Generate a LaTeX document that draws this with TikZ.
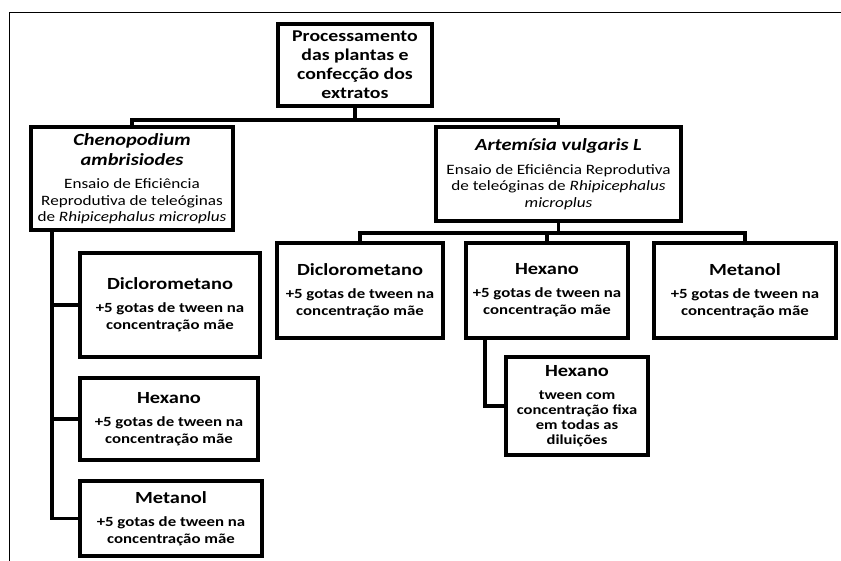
\documentclass[tikz,border=0pt]{standalone}
\usepackage{fontspec}
\setmainfont{Carlito}[FakeStretch=1.2]
\tikzset{
  box/.style={draw, line width=3.1pt, align=center, inner sep=0pt},
  conn/.style={line width=3.1pt},
  frameline/.style={line width=1.8pt},
  bigbody/.style={font=\fontsize{14.3}{16.5}\selectfont},
  subbody/.style={font=\bfseries\fontsize{14}{17}\selectfont},
}
\newcommand\ttl[1]{{\bfseries\fontsize{17}{20}\selectfont #1}}
\begin{document}
\begin{tikzpicture}[x=1pt,y=-1pt]
\useasboundingbox (0,0) rectangle (841,561);
\draw[frameline] (9.5,561) -- (9.5,12.5) -- (841,12.5);

\node[box, minimum width=154, minimum height=82, font=\bfseries\fontsize{16.5}{19}\selectfont]
  (top) at (355,65) {Processamento\\das plantas e\\confecção dos\\extratos};

\node[box, bigbody, minimum width=202, minimum height=103] (cheno) at (132,178.5)
  {\ttl{\itshape Chenopodium}\\[3.5pt]\ttl{\itshape ambrisiodes}\\[7pt]Ensaio de Eficiência\\Reprodutiva de teleóginas\\de \textit{Rhipicephalus microplus}};

\node[box, bigbody, minimum width=245, minimum height=94] (arte) at (558.5,174)
  {\ttl{\itshape Artemísia vulgaris L}\\[7pt]Ensaio de Eficiência Reprodutiva\\de teleóginas de \textit{Rhipicephalus}\\\textit{microplus}};

\node[box, subbody, minimum width=166, minimum height=95] (rD) at (360,290.5)
  {\ttl{Diclorometano}\\[6pt]+5 gotas de tween na\\concentração mãe};
\node[box, subbody, minimum width=162, minimum height=95] (rH) at (547,290.5)
  {\ttl{Hexano}\\[6pt]+5 gotas de tween na\\concentração mãe};
\node[box, subbody, minimum width=182, minimum height=95] (rM) at (745,290.5)
  {\ttl{Metanol}\\[6pt]+5 gotas de tween na\\concentração mãe};

\node[box, font=\bfseries\fontsize{13.8}{15}\selectfont, minimum width=142, minimum height=98] (hsub) at (577,406)
  {\ttl{Hexano}\\[8pt]tween com\\concentração fixa\\em todas as\\diluições};

\node[box, subbody, minimum width=180, minimum height=104] (lD) at (170,305)
  {\ttl{Diclorometano}\\[6pt]+5 gotas de tween na\\concentração mãe};
\node[box, subbody, minimum width=178, minimum height=82] (lH) at (169,419)
  {\ttl{Hexano}\\[6pt]+5 gotas de tween na\\concentração mãe};
\node[box, subbody, minimum width=182, minimum height=75] (lM) at (171,518.5)
  {\ttl{Metanol}\\[6pt]+5 gotas de tween na\\concentração mãe};

\coordinate (j1) at (355,120);
\coordinate (j2) at (558.5,233);
\coordinate (lsp) at (52,0);
\coordinate (hx) at (485,0);

\draw[conn] (top.south) -- (j1);
\draw[conn] (cheno.north) |- (j1) -| (arte.north);
\draw[conn] (arte.south) -- (j2);
\draw[conn] (rD.north) |- (j2) -| (rM.north);
\draw[conn] (j2 -| rH.north) -- (rH.north);
\draw[conn] (rH.south -| hx) |- (hsub.west);
\draw[conn] (cheno.south -| lsp) |- (lM.west);
\draw[conn] (lsp |- lD.west) -- (lD.west);
\draw[conn] (lsp |- lH.west) -- (lH.west);
\end{tikzpicture}
\end{document}
